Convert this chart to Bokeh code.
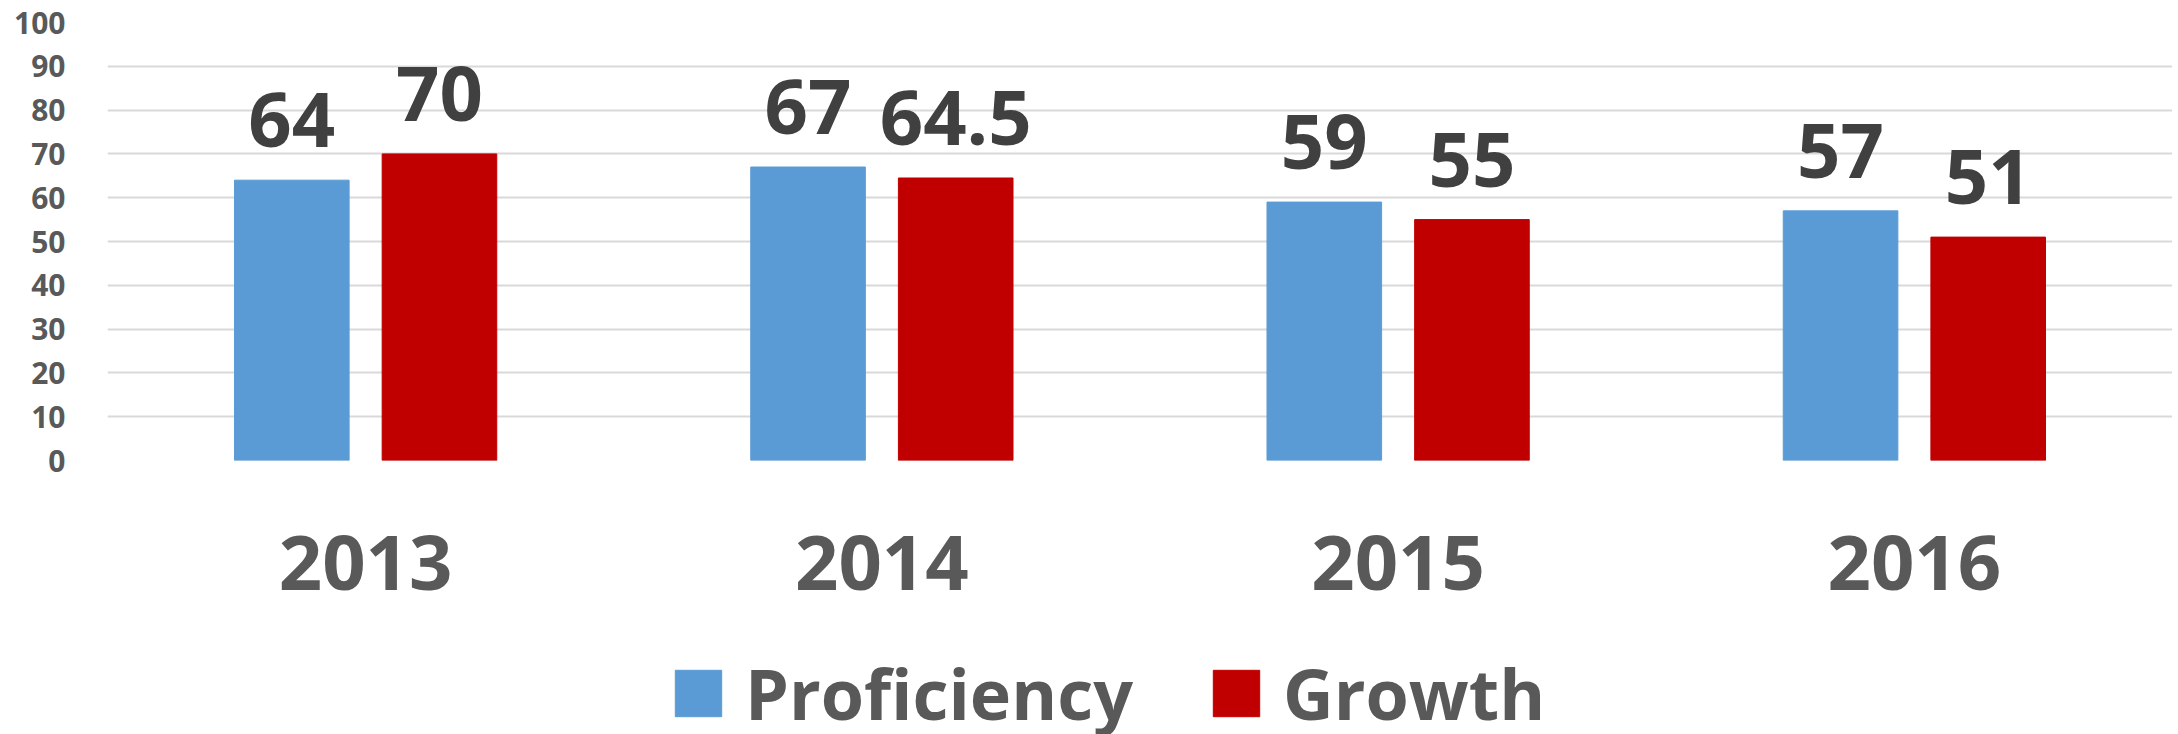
from bokeh.plotting import figure
from bokeh.models import ColumnDataSource, Legend, LegendItem, FixedTicker
from bokeh.layouts import column
from bokeh.transform import dodge
from bokeh.core.properties import value
from bokeh.embed import file_html
from bokeh.resources import INLINE

years = ["2013", "2014", "2015", "2016"]
proficiency = [64, 67, 59, 57]
growth = [70, 64.5, 55, 51]
y_ticks = [0, 10, 20, 30, 40, 50, 60, 70, 80, 90, 100]
series_names = ["Proficiency", "Growth"]

def fmt(v):
    return str(int(v)) if float(v).is_integer() else str(v)

src = ColumnDataSource(dict(
    year=years,
    prof=proficiency,
    grow=growth,
    prof_lbl=[fmt(v) for v in proficiency],
    grow_lbl=[fmt(v) for v in growth],
))

FONT = "Open Sans"
BLUE = "#5B9BD5"
RED = "#C00000"
W = 2172

p = figure(x_range=years, y_range=(0, 100), width=W, height=610,
           output_backend="svg", toolbar_location=None,
           min_border_left=107, min_border_right=0, min_border_top=22, min_border_bottom=150)
p.outline_line_color = None
p.background_fill_color = "white"
p.border_fill_color = "white"

r1 = p.vbar(x=dodge("year", -0.143, range=p.x_range), top="prof", width=0.222,
            source=src, fill_color=BLUE, line_color=BLUE)
r2 = p.vbar(x=dodge("year", 0.143, range=p.x_range), top="grow", width=0.222,
            source=src, fill_color=RED, line_color=RED)

for off, col, lbl in [(-0.143, "prof", "prof_lbl"), (0.143, "grow", "grow_lbl")]:
    p.text(x=dodge("year", off, range=p.x_range), y=col, text=lbl, source=src,
           text_align="center", text_baseline="alphabetic", y_offset=-60,
           text_font=value(FONT), text_font_style="bold", text_font_size="76px",
           text_color="#404040")

# y axis
p.yaxis.ticker = FixedTicker(ticks=y_ticks)
p.yaxis.axis_line_color = None
p.yaxis.major_tick_line_color = None
p.yaxis.minor_tick_line_color = None
p.yaxis.major_label_standoff = 36
p.yaxis.major_label_text_font = FONT
p.yaxis.major_label_text_font_style = "bold"
p.yaxis.major_label_text_font_size = "30px"
p.yaxis.major_label_text_color = "#595959"

# x axis
p.xaxis.axis_line_color = None
p.xaxis.major_tick_line_color = None
p.xaxis.minor_tick_line_color = None
p.xaxis.major_label_standoff = 69
p.xaxis.major_label_text_font = FONT
p.xaxis.major_label_text_font_style = "bold"
p.xaxis.major_label_text_font_size = "76px"
p.xaxis.major_label_text_color = "#595959"

p.xgrid.grid_line_color = None
p.ygrid.grid_line_color = "#d9d9d9"
p.ygrid.grid_line_width = 2

# legend strip (its proxy glyphs use the series data, which lies far outside this strip's ranges)
lg = figure(width=W, height=124, output_backend="svg", toolbar_location=None,
            x_range=(0, 1), y_range=(0, 1), min_border=0)
lg.axis.visible = False
lg.grid.visible = False
lg.outline_line_color = None
lg.border_fill_color = "white"
lg.background_fill_color = "white"
d1 = lg.vbar(x="prof", top="prof", width=0.1, source=src, fill_color=BLUE, line_color=BLUE)
d2 = lg.vbar(x="grow", top="grow", width=0.1, source=src, fill_color=RED, line_color=RED)

legend = Legend(items=[LegendItem(label=series_names[0], renderers=[d1]),
                       LegendItem(label=series_names[1], renderers=[d2])],
                orientation="horizontal", location=(562, -7),
                glyph_width=58, glyph_height=58, label_standoff=18, spacing=74,
                padding=0, margin=0, border_line_color=None, background_fill_alpha=0,
                label_text_font=FONT, label_text_font_style="bold",
                label_text_font_size="70px", label_text_color="#595959")
lg.add_layout(legend, "center")

open("out.html", "w").write(file_html(column(p, lg, spacing=0), INLINE))
